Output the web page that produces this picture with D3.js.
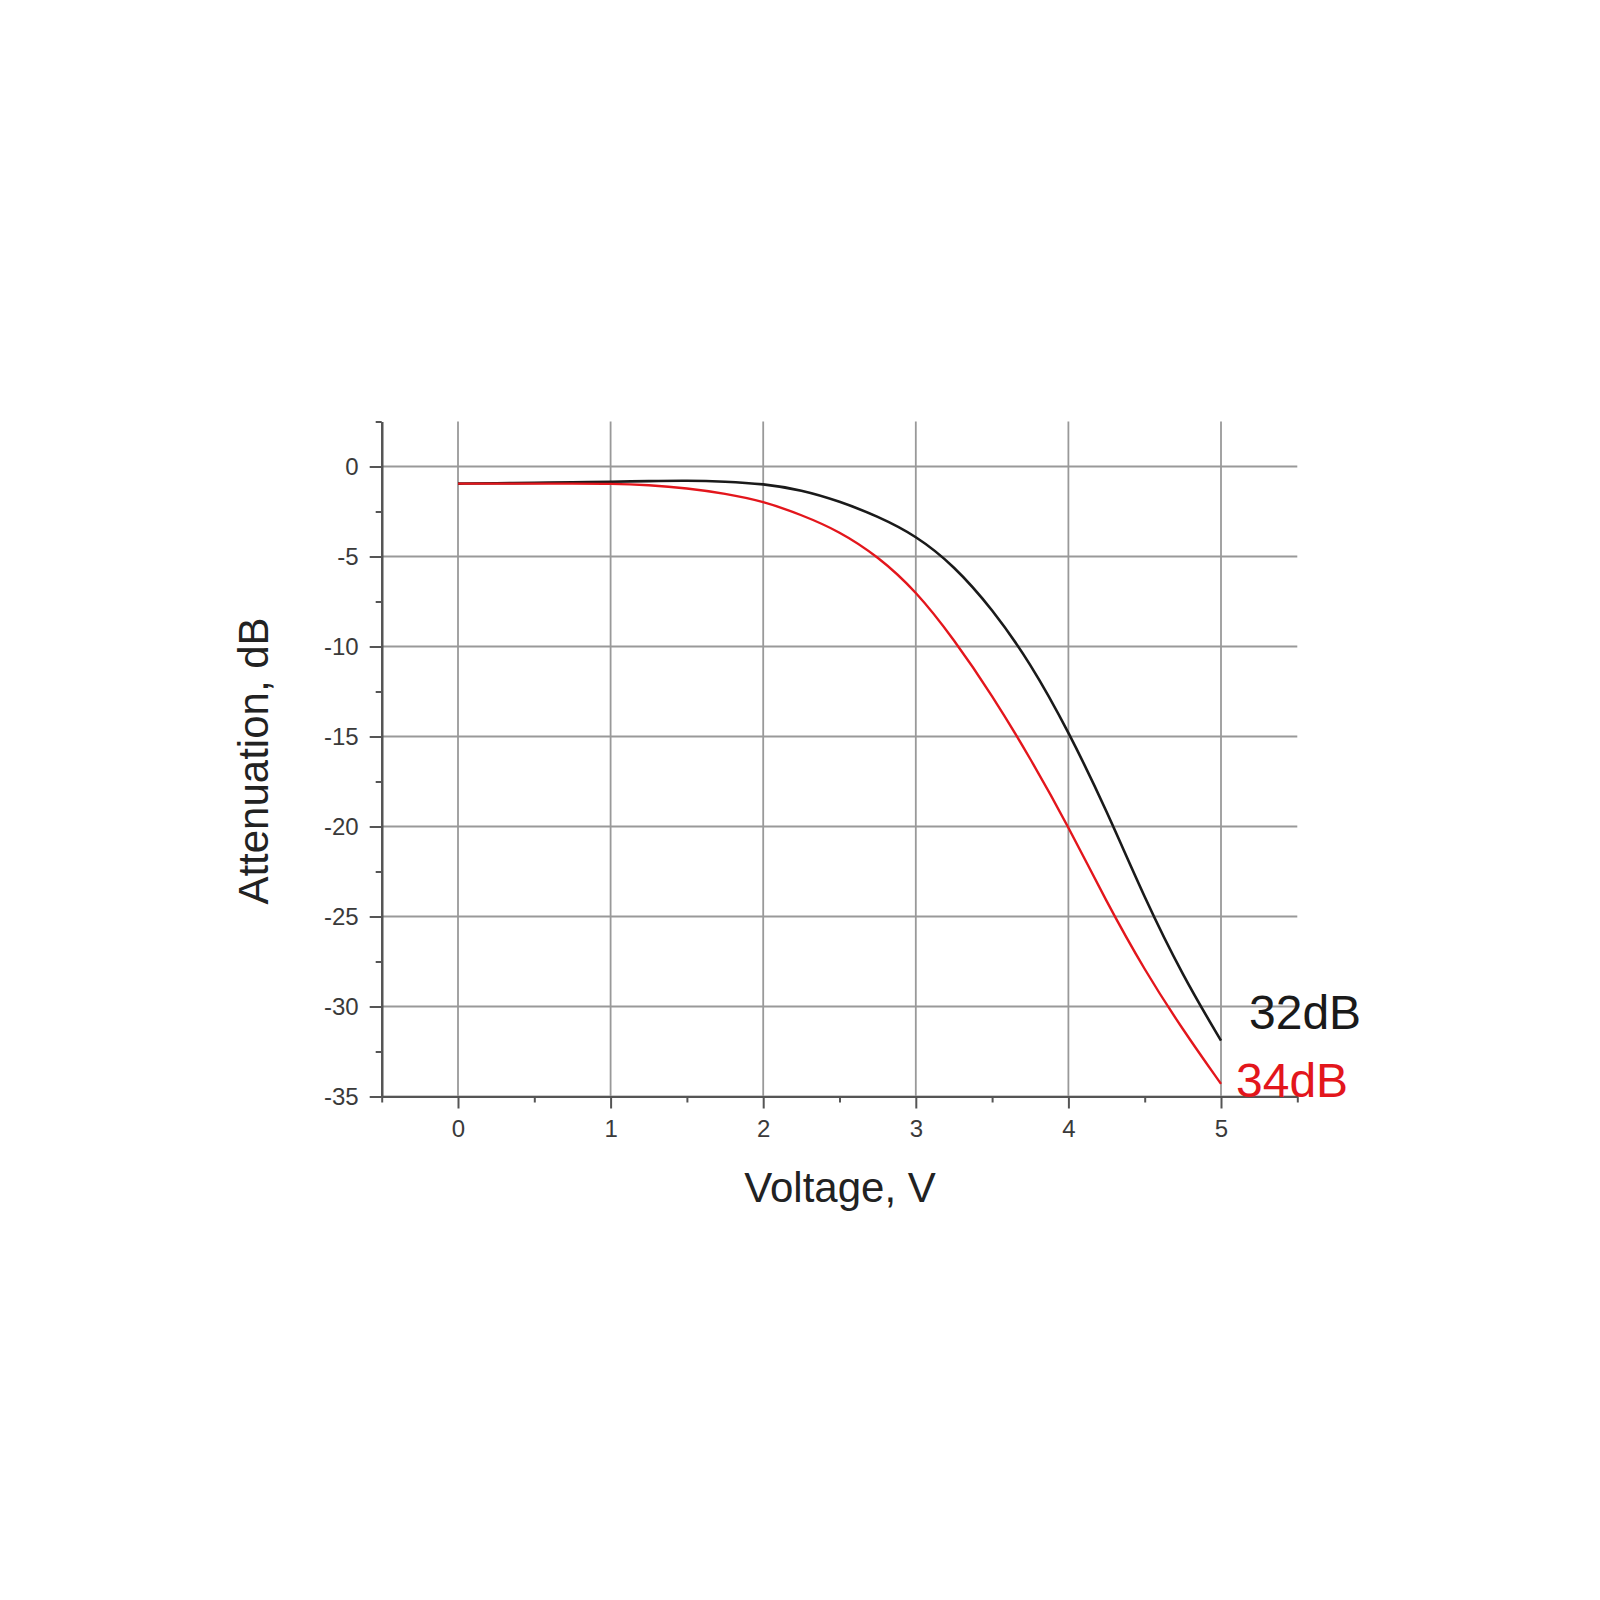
<!DOCTYPE html>
<meta charset="utf-8">
<html>
<head>
<title>Attenuation vs Voltage</title>
<style>
  body { margin: 0; background: #fff; }
  svg text { font-family: "Liberation Sans", Arial, sans-serif; }
</style>
</head>
<body>
<div id="chart"></div>

<script src="https://cdn.jsdelivr.net/npm/d3@7"></script>
<script>
// data
var voltage = [0, 0.25, 0.5, 0.75, 1, 1.25, 1.5, 1.75, 2, 2.25, 2.5, 2.75, 3,
               3.25, 3.5, 3.75, 4, 4.25, 4.5, 4.75, 5];
var att32   = [-0.95, -0.93, -0.91, -0.88, -0.85, -0.81, -0.78, -0.83, -0.96, -1.3, -1.93, -2.76, -3.83,
               -5.5, -7.9, -10.9, -14.7, -19.1, -24.0, -28.3, -31.9];
var att34   = [-0.95, -0.95, -0.95, -0.95, -0.95, -1.03, -1.2, -1.5, -1.93, -2.68, -3.6, -4.98, -6.9,
               -9.6, -12.7, -16.2, -20.0, -24.2, -28.0, -31.3, -34.3];
var xTicks  = [0, 1, 2, 3, 4, 5];
var yTicks  = [0, -5, -10, -15, -20, -25, -30, -35];
var xMinor  = [-0.5, 0.5, 1.5, 2.5, 3.5, 4.5, 5.5];
var yMinor  = [2.5, -2.5, -7.5, -12.5, -17.5, -22.5, -27.5, -32.5];
var seriesNames = ["32dB", "34dB"];

var W = 1600, H = 1600;

var svg = d3.select("#chart").append("svg")
    .attr("width", W)
    .attr("height", H);

var x = d3.scaleLinear().domain([-0.5, 5.5]).range([381.7, 1297.3]);
var y = d3.scaleLinear().domain([-35, 2.5]).range([1096.5, 421.5]);

// grid
svg.append("g").selectAll("line")
  .data(xTicks).enter().append("line")
    .attr("x1", d => x(d)).attr("x2", d => x(d))
    .attr("y1", y(2.5)).attr("y2", y(-35))
    .attr("stroke", "#999").attr("stroke-width", 1.8);

svg.append("g").selectAll("line")
  .data(yTicks).enter().append("line")
    .attr("x1", x(-0.5)).attr("x2", x(5.5))
    .attr("y1", d => y(d)).attr("y2", d => y(d))
    .attr("stroke", "#999").attr("stroke-width", 1.8);

// axes
function styleAxis(g) {
  g.select(".domain").attr("stroke", "#555").attr("stroke-width", 2.2);
  g.selectAll(".tick line").attr("stroke", "#555").attr("stroke-width", 2);
  g.selectAll(".tick text").attr("fill", "#3a3a3a").style("font-size", "24px");
}

svg.append("g")
  .attr("transform", "translate(0," + y(-35) + ")")
  .call(d3.axisBottom(x).tickValues(xMinor).tickSize(6).tickFormat("").tickSizeOuter(0))
  .call(styleAxis);
svg.append("g")
  .attr("transform", "translate(0," + y(-35) + ")")
  .call(d3.axisBottom(x).tickValues(xTicks).tickSize(12).tickPadding(11).tickFormat(d => String(d)).tickSizeOuter(0))
  .call(styleAxis);

svg.append("g")
  .attr("transform", "translate(" + x(-0.5) + ",0)")
  .call(d3.axisLeft(y).tickValues(yMinor).tickSize(6).tickFormat("").tickSizeOuter(0))
  .call(styleAxis);
svg.append("g")
  .attr("transform", "translate(" + x(-0.5) + ",0)")
  .call(d3.axisLeft(y).tickValues(yTicks).tickSize(12).tickPadding(11).tickFormat(d => String(d)).tickSizeOuter(0))
  .call(styleAxis);

// curves (b-spline to smooth out reading noise)
var line = d3.line()
    .x(d => x(d[0]))
    .y(d => y(d[1]))
    .curve(d3.curveBasis);

svg.append("path")
  .datum(d3.zip(voltage, att32))
  .attr("d", line)
  .attr("fill", "none")
  .attr("stroke", "#1a1a1a")
  .attr("stroke-width", 2.6);

svg.append("path")
  .datum(d3.zip(voltage, att34))
  .attr("d", line)
  .attr("fill", "none")
  .attr("stroke", "#e3161c")
  .attr("stroke-width", 2.4);

// curve labels
svg.append("text")
  .attr("x", x(5) + 28)
  .attr("y", y(att32[att32.length - 1]) - 12)
  .attr("fill", "#1a1a1a")
  .style("font-size", "48px")
  .text(seriesNames[0]);

svg.append("text")
  .attr("x", x(5) + 15)
  .attr("y", y(att34[att34.length - 1]) + 13)
  .attr("fill", "#e3161c")
  .style("font-size", "48px")
  .text(seriesNames[1]);

// axis titles
svg.append("text")
  .attr("x", 840)
  .attr("y", 1202)
  .attr("text-anchor", "middle")
  .attr("fill", "#222")
  .style("font-size", "42px")
  .text("Voltage, V");

svg.append("text")
  .attr("transform", "translate(268,761) rotate(-90)")
  .attr("text-anchor", "middle")
  .attr("fill", "#222")
  .style("font-size", "42px")
  .text("Attenuation, dB");
</script>
</body>
</html>
